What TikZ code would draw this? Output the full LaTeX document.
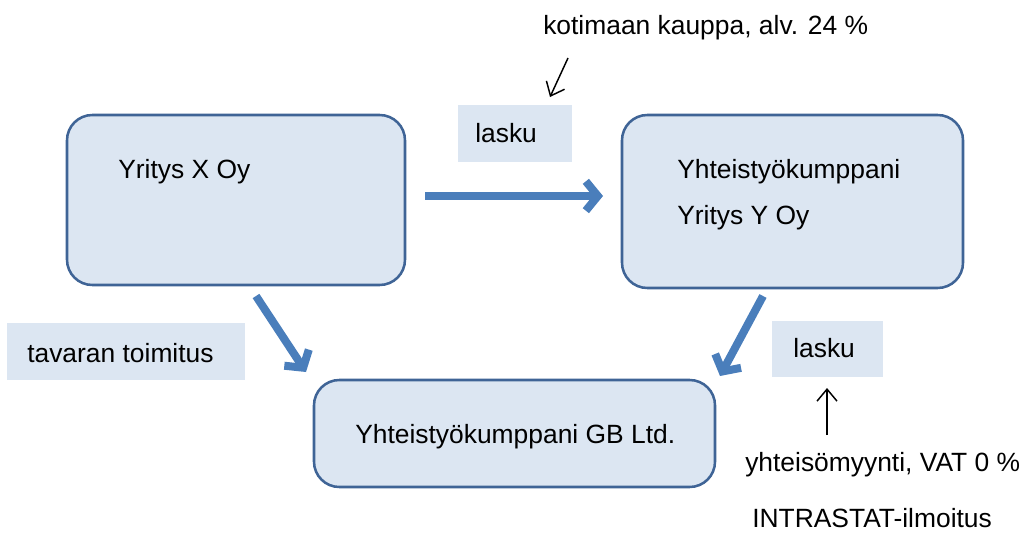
\documentclass[tikz,border=0pt]{standalone}
\usepackage{fontspec}
\setmainfont{Liberation Sans}
\usetikzlibrary{arrows.meta}
\definecolor{boxfill}{HTML}{DCE6F2}
\definecolor{boxline}{HTML}{3F6496}
\definecolor{arrowblue}{HTML}{4A7EBB}
\tikzset{
  mainbox/.style={draw=boxline, fill=boxfill, line width=1.9pt, rounded corners=19pt, inner sep=0pt},
  labelbox/.style={fill=boxfill, draw=none, inner sep=0pt},
  txt/.style={anchor=west, inner sep=0pt, font=\fontsize{19.8}{23}\selectfont},
  bigarrow/.style={draw=arrowblue, line width=6pt, -{Straight Barb[length=9pt,width=22pt,line width=6pt]}},
  thinarrow/.style={draw=black, line width=1.1pt, -{Straight Barb[length=9pt,width=15pt]}}
}
\begin{document}
\begin{tikzpicture}[x=0.75pt,y=-0.75pt]
\useasboundingbox (0,0) rectangle (1027,532);
% main boxes
\node[mainbox, minimum width=338*0.75pt, minimum height=170*0.75pt] (A) at (236,200) {};
\node[mainbox, minimum width=341*0.75pt, minimum height=173*0.75pt] (B) at (792.5,201.5) {};
\node[mainbox, minimum width=401*0.75pt, minimum height=107*0.75pt] (C) at (514.5,433.5) {};
% label boxes
\node[labelbox, minimum width=114*0.75pt, minimum height=57*0.75pt] (L1) at (515,133.5) {};
\node[labelbox, minimum width=238*0.75pt, minimum height=57*0.75pt] (L2) at (126,351.5) {};
\node[labelbox, minimum width=111*0.75pt, minimum height=56*0.75pt] (L3) at (827.5,349) {};
% texts
\node[txt] (tA) at (118,172) {Yritys X Oy};
\node[txt] (tB1) at (677,172) {Yhteistyökumppani};
\node[txt] (tB2) at (677,218) {Yritys Y Oy};
\node[txt] (tC) at (355,437) {Yhteistyökumppani GB Ltd.};
\node[txt] (l1) at (475,133) {lasku};
\node[txt] (l2) at (27,353) {tavaran toimitus};
\node[txt] (l3) at (793,348) {lasku};
\node[txt] (k) at (543,28) {kotimaan kauppa, alv. 24 \%};
\node[txt] (y) at (745,465) {yhteisömyynti, VAT 0 \%};
\node[txt] (i) at (752,518) {INTRASTAT-ilmoitus};
% coordinates for arrow ends
\coordinate (a1) at (425,196);
\coordinate (b1) at (603,196);
\coordinate (a2) at (256,296);
\coordinate (c2) at (306,372);
\coordinate (b3) at (763,296);
\coordinate (c3) at (720,376);
\coordinate (k1) at (568,58);
\coordinate (k2) at (550,97);
\coordinate (y1) at (827,435);
\coordinate (y2) at (827,388);
% arrows
\draw[bigarrow] (a1) -- (b1);
\draw[bigarrow] (a2) -- (c2);
\draw[bigarrow] (b3) -- (c3);
\draw[thinarrow] (k1) -- (k2);
\draw[thinarrow] (y1) -- (y2);
\end{tikzpicture}
\end{document}
